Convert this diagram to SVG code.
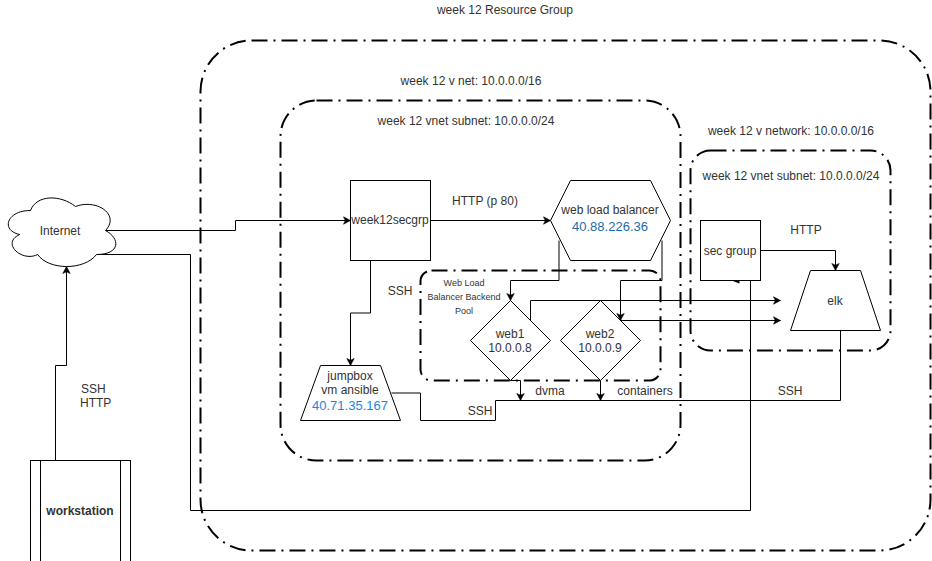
<svg xmlns="http://www.w3.org/2000/svg" width="932" height="561" viewBox="0 0 932 561">
<style>
text{font-family:"Liberation Sans",Arial,Helvetica,sans-serif;font-size:12px;fill:#333;text-anchor:middle}
.s{text-anchor:start}
.b{font-weight:bold}
.sm{font-size:9px}
.ip1{font-size:13px;fill:#1f6ba8}
.ip2{font-size:13px;fill:#1b87dc}
.box{fill:#fff;stroke:#000;stroke-width:1}
.zone{fill:none;stroke:#000;stroke-width:2;stroke-dasharray:16 6 2 6}
.c{fill:none;stroke:#000;stroke-width:1}
.a{marker-end:url(#arr)}
</style>
<defs>
<marker id="arr" markerUnits="userSpaceOnUse" markerWidth="10" markerHeight="10" refX="8" refY="5" orient="auto">
<path d="M1 1.3L8 5L1 8.7L2.8 5Z" fill="#000" stroke="#000" stroke-width="0.6"/>
</marker>
</defs>
<rect width="932" height="561" fill="#fff"/>
<g transform="translate(.5 .5)">
<g id="zones">
<rect id="resource-group" class="zone" x="200" y="40" width="730" height="510" rx="51" ry="51"/>
<rect id="vnet-subnet" class="zone" x="280" y="100" width="400" height="360" rx="36" ry="36"/>
<rect id="v-network" class="zone" x="690" y="150" width="200" height="200" rx="20" ry="20"/>
<rect id="backend-pool" class="zone" x="420" y="270" width="240" height="110" rx="11" ry="11"/>
</g>
<g id="connectors">
<path class="c a" d="M105 230H235V220H350"/>
<path class="c" d="M96 254H190V510H750V280"/>
<path d="M731 280H739V283Z" fill="#000"/>
<path class="c a" d="M55 460V365H66V266"/>
<path class="c a" d="M370 260V312.500H350V365"/>
<path class="c a" d="M430 220H550"/>
<path class="c a" d="M558.500 240V280H510V300"/>
<path class="c a" d="M661.500 240V280H620V320"/>
<path class="c a" d="M530 320V300H780"/>
<path class="c a" d="M620 320H780"/>
<path class="c a" d="M510 380H520V400"/>
<path class="c a" d="M600 380V400"/>
<path class="c" d="M391 392.500H420V420H495V400H840V330"/>
<path class="c a" d="M760 250H835V270"/>
</g>
<g id="internet">
<path class="box" d="M30 210C6 210 0 230 19.200 234C0 242.800 21.600 262 37.200 254C48 270 84 270 96 254C120 254 120 238 105 230C120 214 96 198 75 206C60 194 36 194 30 210Z"/>
</g>
<g id="workstation">
<rect class="box" x="30" y="460" width="100" height="120"/>
<path class="c" d="M40 460V580M120 460V580"/>
</g>
<g id="week12secgrp"><rect class="box" x="350" y="180" width="80" height="80"/></g>
<g id="web-load-balancer"><path class="box" d="M570 180H650L670 220L650 260H570L550 220Z"/></g>
<g id="web1"><path class="box" d="M510 300L550 340L510 380L470 340Z"/></g>
<g id="web2"><path class="box" d="M600 300L640 340L600 380L560 340Z"/></g>
<g id="jumpbox"><path class="box" d="M320 365H380L400 420H300Z"/></g>
<g id="sec-group"><rect class="box" x="700" y="220" width="60" height="60"/></g>
<g id="elk"><path class="box" d="M810 270H860L880 330H790Z"/></g>
</g>
<g id="labels">
<text x="505" y="14">week 12 Resource Group</text>
<text x="471" y="85">week 12 v net: 10.0.0.0/16</text>
<text x="466" y="125">week 12 vnet subnet: 10.0.0.0/24</text>
<text x="791" y="135">week 12 v network: 10.0.0.0/16</text>
<text x="791" y="180">week 12 vnet subnet: 10.0.0.0/24</text>
<text x="60" y="235">Internet</text>
<text x="390" y="224">week12secgrp</text>
<text x="485" y="205">HTTP (p 80)</text>
<text x="610" y="214">web load balancer</text>
<text class="ip1" x="610" y="231">40.88.226.36</text>
<text x="400" y="295">SSH</text>
<text class="sm" x="464" y="286">Web Load</text>
<text class="sm" x="464" y="300">Balancer Backend</text>
<text class="sm" x="464" y="314">Pool</text>
<text x="510" y="338">web1</text>
<text x="510" y="352">10.0.0.8</text>
<text x="600" y="338">web2</text>
<text x="600" y="352">10.0.0.9</text>
<text x="350" y="380">jumpbox</text>
<text x="350" y="394">vm ansible</text>
<text class="ip2" x="350" y="410">40.71.35.167</text>
<text x="550" y="395">dvma</text>
<text x="645" y="395">containers</text>
<text x="480" y="415">SSH</text>
<text x="790" y="395">SSH</text>
<text x="730" y="255">sec group</text>
<text x="806" y="234">HTTP</text>
<text x="835" y="305">elk</text>
<text class="s" x="81" y="393">SSH</text>
<text class="s" x="80" y="407">HTTP</text>
<text class="b" x="80" y="515">workstation</text>
</g>
</svg>
